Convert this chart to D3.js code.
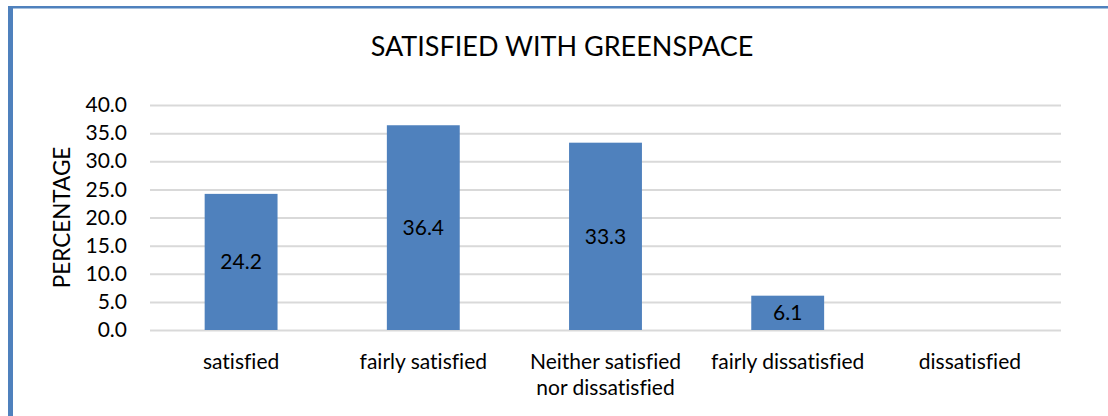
<!DOCTYPE html>
<html>
<head>
<meta charset="utf-8">
<script src="https://cdn.jsdelivr.net/npm/d3@7"></script>
<style>
  body { margin: 0; background: #fff; }
  svg text { font-family: Lato, "Liberation Sans", sans-serif; fill: #000; font-variant-ligatures: none; }
</style>
</head>
<body>
<div id="chart"><svg></svg></div>
<script>
// chart data
var categories = ["satisfied", "fairly satisfied", "Neither satisfied nor dissatisfied", "fairly dissatisfied", "dissatisfied"];
var values = [24.2, 36.4, 33.3, 6.1, 0];
var yTicks = [0, 5, 10, 15, 20, 25, 30, 35, 40];
var title = "SATISFIED WITH GREENSPACE";
var yLabel = "PERCENTAGE";

var W = 1108, H = 416;
var margin = {top: 105, right: 47, bottom: 86, left: 150},
    width = W - margin.left - margin.right,
    height = H - margin.top - margin.bottom;

var svg = d3.select("#chart").select("svg")
    .attr("width", W)
    .attr("height", H);

// frame border (top + left)
svg.append("rect")
    .attr("x", 8).attr("y", 6)
    .attr("width", W - 8).attr("height", 2.5)
    .attr("fill", "#4f81bd");
svg.append("rect")
    .attr("x", 8).attr("y", 6)
    .attr("width", 5).attr("height", H - 6)
    .attr("fill", "#4f81bd");

var data = categories.map(function (c, i) {
    return {cat: c, val: values[i]};
});

var x = d3.scaleBand()
    .domain(categories)
    .range([0, width])
    .paddingInner(0.6)
    .paddingOuter(0.3);
var y = d3.scaleLinear()
    .domain([0, 40])
    .range([height, 0]);

var g = svg.append("g")
    .attr("transform", "translate(" + margin.left + "," + margin.top + ")");

// gridlines
var yAxis = g.append("g")
    .call(d3.axisLeft(y).tickValues(yTicks).tickSize(-width).tickPadding(23)
        .tickFormat(d3.format(".1f")));
yAxis.select(".domain").remove();
yAxis.selectAll("line").attr("stroke", "#d9d9d9").attr("stroke-width", 2);
yAxis.selectAll("text")
    .style("font-size", "21px")
    .attr("fill", "#000");

// bars
g.selectAll(".bar")
    .data(data)
    .enter().append("rect")
    .attr("class", "bar")
    .attr("x", function (d) { return x(d.cat); })
    .attr("width", x.bandwidth())
    .attr("y", function (d) { return y(d.val); })
    .attr("height", function (d) { return height - y(d.val); })
    .attr("fill", "#4f81bd");

// value labels (centered)
g.selectAll(".val")
    .data(data.filter(function (d) { return d.val > 0; }))
    .enter().append("text")
    .attr("class", "val")
    .attr("x", function (d) { return x(d.cat) + x.bandwidth() / 2; })
    .attr("y", function (d) { return (y(d.val) + height) / 2; })
    .attr("dy", "0.35em")
    .attr("text-anchor", "middle")
    .style("font-size", "21px")
    .text(function (d) { return d3.format(".1f")(d.val); });

// x axis labels, wrapped
var xAxis = g.append("g")
    .attr("transform", "translate(0," + height + ")")
    .call(d3.axisBottom(x).tickSize(0).tickPadding(0));
xAxis.select(".domain").remove();
xAxis.selectAll("text").remove();
xAxis.selectAll(".tick").each(function (d) {
    var lines = d === "Neither satisfied nor dissatisfied"
        ? ["Neither satisfied", "nor dissatisfied"] : [d];
    var t = d3.select(this).append("text")
        .attr("text-anchor", "middle")
        .style("font-size", "21px");
    lines.forEach(function (l, i) {
        t.append("tspan").attr("x", 0).attr("y", 32 + i * 26).attr("dy", "0.35em").text(l);
    });
});

// title
svg.append("text")
    .attr("x", 562).attr("y", 47)
    .attr("dy", "0.35em")
    .attr("text-anchor", "middle")
    .style("font-size", "27px")
    .text(title);

// y axis title
svg.append("text")
    .attr("transform", "translate(62," + (margin.top + height / 2) + ") rotate(-90)")
    .attr("dy", "0.35em")
    .attr("text-anchor", "middle")
    .style("font-size", "22.5px")
    .text(yLabel);
</script>
</body>
</html>
